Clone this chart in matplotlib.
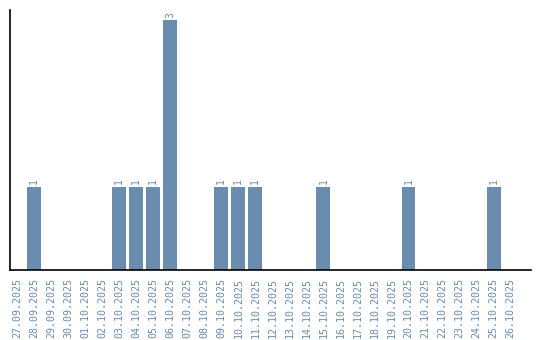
import matplotlib
matplotlib.use("Agg")
import matplotlib.pyplot as plt
import numpy as np

# daily counts 27.09.2025 - 26.10.2025
dates = ['27.09.2025', '28.09.2025', '29.09.2025', '30.09.2025', '01.10.2025',
         '02.10.2025', '03.10.2025', '04.10.2025', '05.10.2025', '06.10.2025',
         '07.10.2025', '08.10.2025', '09.10.2025', '10.10.2025', '11.10.2025',
         '12.10.2025', '13.10.2025', '14.10.2025', '15.10.2025', '16.10.2025',
         '17.10.2025', '18.10.2025', '19.10.2025', '20.10.2025', '21.10.2025',
         '22.10.2025', '23.10.2025', '24.10.2025', '25.10.2025', '26.10.2025']
counts = [0, 1, 0, 0, 0, 0, 1, 1, 1, 3, 0, 0, 1, 1, 1,
          0, 0, 0, 1, 0, 0, 0, 0, 1, 0, 0, 0, 0, 1, 0]

col = '#6a8caf'

fig = plt.figure(figsize=(5.4, 3.4), dpi=100)
ax = fig.add_axes([10/540, 70/340, 521/540, 260/340])

x = np.arange(len(dates))
bars = ax.bar(x, counts, width=0.82, color=col)

for xi, c in zip(x, counts):
    if c > 0:
        ax.text(xi, c + 0.03, str(c), rotation=90, ha='center', va='bottom',
                color=col, fontsize=7, family='DejaVu Sans Mono')

ax.set_xlim(-0.42, len(dates) - 1 + 1.2)
ax.set_ylim(0, 3.12)
ax.set_xticks(x)
ax.set_xticklabels(dates, rotation=90, color=col, fontsize=7.2,
                   family='DejaVu Sans Mono')
ax.tick_params(axis='x', length=0, pad=6)
ax.set_yticks([])
ax.spines['top'].set_visible(False)
ax.spines['right'].set_visible(False)
ax.spines['left'].set_linewidth(1.2)
ax.spines['bottom'].set_linewidth(1.2)

fig.savefig('out.png', dpi=100)
